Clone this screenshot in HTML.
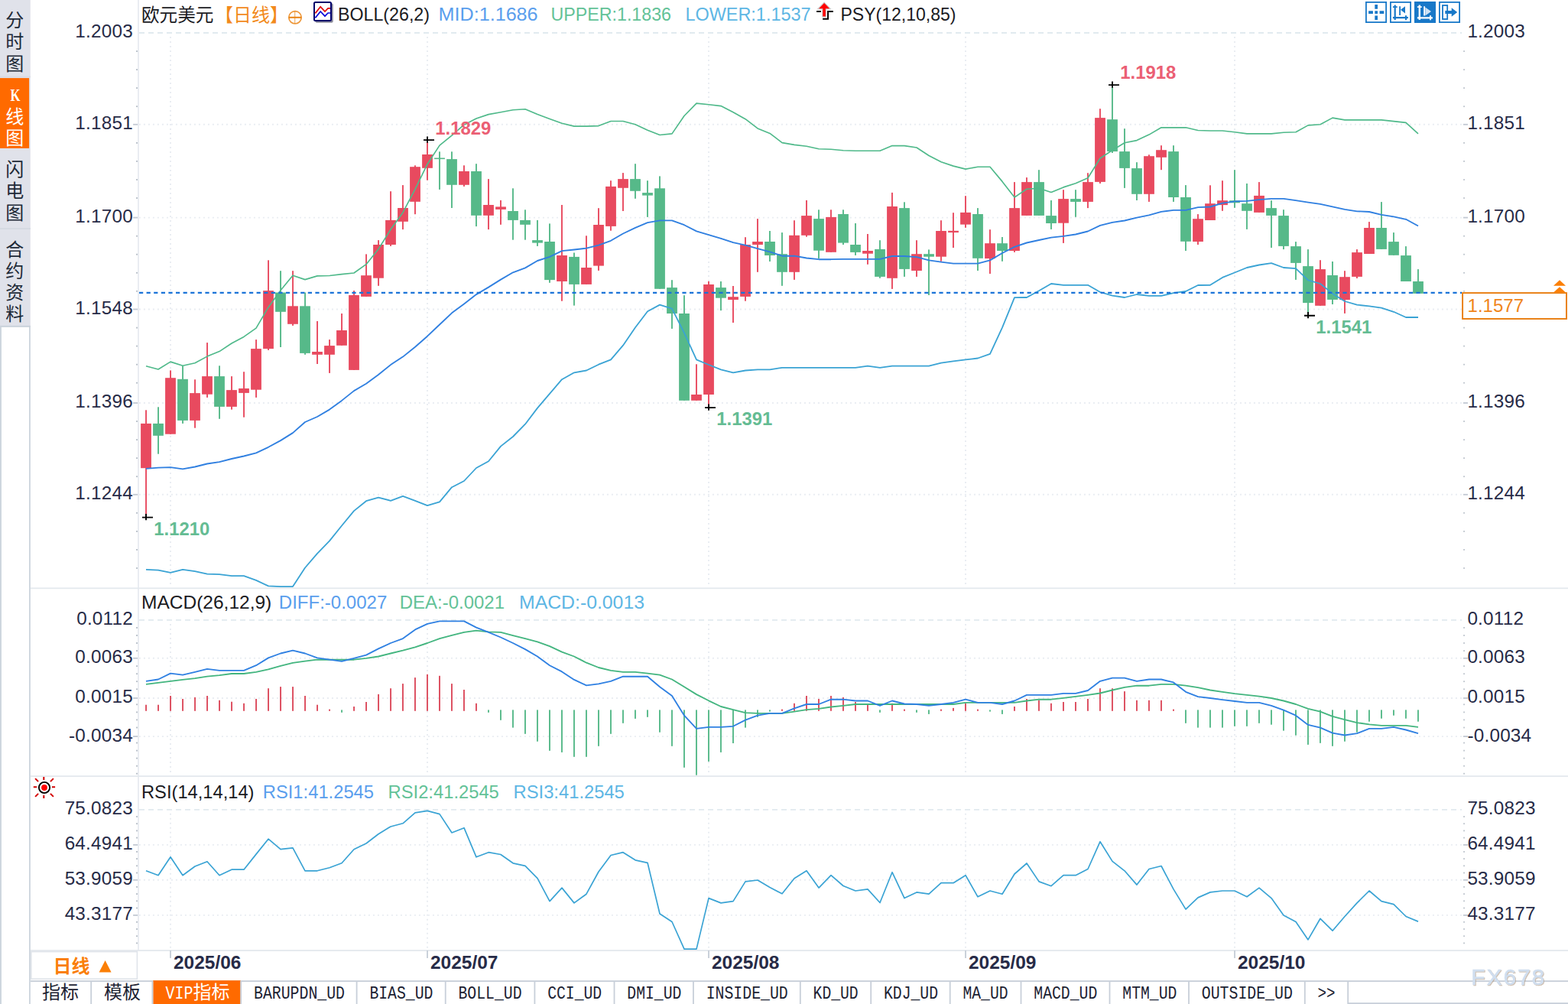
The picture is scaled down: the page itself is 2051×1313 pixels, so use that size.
<!DOCTYPE html>
<html><head><meta charset="utf-8"><title>chart</title><style>html,body{margin:0;padding:0;background:#fff}svg{display:block}</style></head><body>
<svg width="2051" height="1313" viewBox="0 0 2051 1313">
<rect width="2051" height="1313" fill="#fff"/>
<g id="sidebar">
<rect x="0" y="0" width="39.8" height="427" fill="#e0e2ea"/>
<rect x="0" y="426" width="1.95" height="887" fill="#cdd5de"/>
<rect x="38" y="426" width="1.85" height="887" fill="#cdd5de"/>
<rect x="0" y="425.8" width="39.8" height="2.1" fill="#cbd3dc"/>
<rect x="0" y="102.1" width="38.1" height="91.8" fill="#ff6a00"/>
<rect x="0" y="298.2" width="40" height="1.6" fill="#d3d7e0"/>
<rect x="0" y="99.6" width="40" height="1.6" fill="#d8dbe4"/>
<g font-family="Liberation Sans, Noto Sans CJK SC, sans-serif" font-size="24" fill="#1e2a38" text-anchor="middle">
<text x="19.2" y="34.8">分</text>
<text x="19.2" y="62.8">时</text>
<text x="19.2" y="91.8">图</text>
</g>
<g font-family="Liberation Sans, Noto Sans CJK SC, sans-serif" font-size="24" fill="#fff" text-anchor="middle">
<text x="19.2" y="160.6">线</text>
<text x="19.2" y="189">图</text>
</g>
<text x="13.6" y="131.9" font-family="Liberation Serif, serif" font-weight="bold" font-size="24" fill="#fff" textLength="13" lengthAdjust="spacingAndGlyphs">K</text>
<g font-family="Liberation Sans, Noto Sans CJK SC, sans-serif" font-size="24" fill="#1e2a38" text-anchor="middle">
<text x="19.2" y="230.4">闪</text>
<text x="19.2" y="258.4">电</text>
<text x="19.2" y="287">图</text>
<text x="19.2" y="335">合</text>
<text x="19.2" y="363">约</text>
<text x="19.2" y="391">资</text>
<text x="19.2" y="418.6">料</text>
</g>
</g>
<g id="frame">
<rect x="180.05" y="0" width="1.85" height="1243" fill="#e8ecf1"/>
<rect x="40" y="768.4" width="2011" height="1.8" fill="#e4e9ee"/>
<rect x="40" y="1014.2" width="2011" height="1.8" fill="#e4e9ee"/>
<rect x="40" y="1242.1" width="2011" height="1.9" fill="#e5e9ee"/>
</g>
<g id="grid" fill="none">
<path d="M182 43H1912" stroke="#e1eaef" stroke-width="1.8" stroke-dasharray="7 5"/>
<path d="M181.9 162.8H1912" stroke="#e9edf2" stroke-width="1.9" stroke-dasharray="2 4"/>
<path d="M181.9 284.6H1912" stroke="#e9edf2" stroke-width="1.9" stroke-dasharray="2 4"/>
<path d="M181.9 404.5H1912" stroke="#e9edf2" stroke-width="1.9" stroke-dasharray="2 4"/>
<path d="M181.9 527H1912" stroke="#e9edf2" stroke-width="1.9" stroke-dasharray="2 4"/>
<path d="M181.9 646.8H1912" stroke="#e9edf2" stroke-width="1.9" stroke-dasharray="2 4"/>
<path d="M182 810.9H1912" stroke="#e1eaef" stroke-width="1.8" stroke-dasharray="7 5"/>
<path d="M181.9 860.8H1912" stroke="#e9edf2" stroke-width="1.9" stroke-dasharray="2 4"/>
<path d="M181.9 913H1912" stroke="#e9edf2" stroke-width="1.9" stroke-dasharray="2 4"/>
<path d="M181.9 963.1H1912" stroke="#e9edf2" stroke-width="1.9" stroke-dasharray="2 4"/>
<path d="M182 1058.8H1912" stroke="#e1eaef" stroke-width="1.8" stroke-dasharray="7 5"/>
<path d="M181.9 1104.9H1912" stroke="#e9edf2" stroke-width="1.9" stroke-dasharray="2 4"/>
<path d="M181.9 1150.8H1912" stroke="#e9edf2" stroke-width="1.9" stroke-dasharray="2 4"/>
<path d="M181.9 1196.9H1912" stroke="#e9edf2" stroke-width="1.9" stroke-dasharray="2 4"/>
<path d="M223 48V768" stroke="#e9edf2" stroke-width="1.9" stroke-dasharray="2 4"/>
<path d="M223 815.9V1013.5" stroke="#e9edf2" stroke-width="1.9" stroke-dasharray="2 4"/>
<path d="M223 1063.8V1241" stroke="#e9edf2" stroke-width="1.9" stroke-dasharray="2 4"/>
<path d="M559 48V768" stroke="#e9edf2" stroke-width="1.9" stroke-dasharray="2 4"/>
<path d="M559 815.9V1013.5" stroke="#e9edf2" stroke-width="1.9" stroke-dasharray="2 4"/>
<path d="M559 1063.8V1241" stroke="#e9edf2" stroke-width="1.9" stroke-dasharray="2 4"/>
<path d="M927 48V768" stroke="#e9edf2" stroke-width="1.9" stroke-dasharray="2 4"/>
<path d="M927 815.9V1013.5" stroke="#e9edf2" stroke-width="1.9" stroke-dasharray="2 4"/>
<path d="M927 1063.8V1241" stroke="#e9edf2" stroke-width="1.9" stroke-dasharray="2 4"/>
<path d="M1263 48V768" stroke="#e9edf2" stroke-width="1.9" stroke-dasharray="2 4"/>
<path d="M1263 815.9V1013.5" stroke="#e9edf2" stroke-width="1.9" stroke-dasharray="2 4"/>
<path d="M1263 1063.8V1241" stroke="#e9edf2" stroke-width="1.9" stroke-dasharray="2 4"/>
<path d="M1615 48V768" stroke="#e9edf2" stroke-width="1.9" stroke-dasharray="2 4"/>
<path d="M1615 815.9V1013.5" stroke="#e9edf2" stroke-width="1.9" stroke-dasharray="2 4"/>
<path d="M1615 1063.8V1241" stroke="#e9edf2" stroke-width="1.9" stroke-dasharray="2 4"/>
</g>
<g id="ticks">
<rect x="178" y="66.1" width="2" height="1.8" fill="#b9c0c9"/>
<rect x="1914.2" y="66.1" width="1.7" height="1.8" fill="#b9c0c9"/>
<rect x="178" y="90.2" width="2" height="1.8" fill="#b9c0c9"/>
<rect x="1914.2" y="90.2" width="1.7" height="1.8" fill="#b9c0c9"/>
<rect x="178" y="114.2" width="2" height="1.8" fill="#b9c0c9"/>
<rect x="1914.2" y="114.2" width="1.7" height="1.8" fill="#b9c0c9"/>
<rect x="178" y="138.3" width="2" height="1.8" fill="#b9c0c9"/>
<rect x="1914.2" y="138.3" width="1.7" height="1.8" fill="#b9c0c9"/>
<rect x="178" y="186" width="2" height="1.8" fill="#b9c0c9"/>
<rect x="1914.2" y="186" width="1.7" height="1.8" fill="#b9c0c9"/>
<rect x="178" y="210" width="2" height="1.8" fill="#b9c0c9"/>
<rect x="1914.2" y="210" width="1.7" height="1.8" fill="#b9c0c9"/>
<rect x="178" y="234.1" width="2" height="1.8" fill="#b9c0c9"/>
<rect x="1914.2" y="234.1" width="1.7" height="1.8" fill="#b9c0c9"/>
<rect x="178" y="258.1" width="2" height="1.8" fill="#b9c0c9"/>
<rect x="1914.2" y="258.1" width="1.7" height="1.8" fill="#b9c0c9"/>
<rect x="178" y="307.8" width="2" height="1.8" fill="#b9c0c9"/>
<rect x="1914.2" y="307.8" width="1.7" height="1.8" fill="#b9c0c9"/>
<rect x="178" y="331.8" width="2" height="1.8" fill="#b9c0c9"/>
<rect x="1914.2" y="331.8" width="1.7" height="1.8" fill="#b9c0c9"/>
<rect x="178" y="355.9" width="2" height="1.8" fill="#b9c0c9"/>
<rect x="1914.2" y="355.9" width="1.7" height="1.8" fill="#b9c0c9"/>
<rect x="178" y="379.9" width="2" height="1.8" fill="#b9c0c9"/>
<rect x="1914.2" y="379.9" width="1.7" height="1.8" fill="#b9c0c9"/>
<rect x="178" y="427.7" width="2" height="1.8" fill="#b9c0c9"/>
<rect x="1914.2" y="427.7" width="1.7" height="1.8" fill="#b9c0c9"/>
<rect x="178" y="451.7" width="2" height="1.8" fill="#b9c0c9"/>
<rect x="1914.2" y="451.7" width="1.7" height="1.8" fill="#b9c0c9"/>
<rect x="178" y="475.8" width="2" height="1.8" fill="#b9c0c9"/>
<rect x="1914.2" y="475.8" width="1.7" height="1.8" fill="#b9c0c9"/>
<rect x="178" y="499.8" width="2" height="1.8" fill="#b9c0c9"/>
<rect x="1914.2" y="499.8" width="1.7" height="1.8" fill="#b9c0c9"/>
<rect x="178" y="550.1" width="2" height="1.8" fill="#b9c0c9"/>
<rect x="1914.2" y="550.1" width="1.7" height="1.8" fill="#b9c0c9"/>
<rect x="178" y="574.2" width="2" height="1.8" fill="#b9c0c9"/>
<rect x="1914.2" y="574.2" width="1.7" height="1.8" fill="#b9c0c9"/>
<rect x="178" y="598.2" width="2" height="1.8" fill="#b9c0c9"/>
<rect x="1914.2" y="598.2" width="1.7" height="1.8" fill="#b9c0c9"/>
<rect x="178" y="622.3" width="2" height="1.8" fill="#b9c0c9"/>
<rect x="1914.2" y="622.3" width="1.7" height="1.8" fill="#b9c0c9"/>
<rect x="178" y="669.9" width="2" height="1.8" fill="#b9c0c9"/>
<rect x="1914.2" y="669.9" width="1.7" height="1.8" fill="#b9c0c9"/>
<rect x="178" y="694" width="2" height="1.8" fill="#b9c0c9"/>
<rect x="1914.2" y="694" width="1.7" height="1.8" fill="#b9c0c9"/>
<rect x="178" y="718" width="2" height="1.8" fill="#b9c0c9"/>
<rect x="1914.2" y="718" width="1.7" height="1.8" fill="#b9c0c9"/>
<rect x="178" y="742.1" width="2" height="1.8" fill="#b9c0c9"/>
<rect x="1914.2" y="742.1" width="1.7" height="1.8" fill="#b9c0c9"/>
<rect x="174.1" y="161.9" width="6" height="1.8" fill="#c3c9d3"/>
<rect x="1914" y="161.9" width="6" height="1.8" fill="#c3c9d3"/>
<rect x="174.1" y="283.7" width="6" height="1.8" fill="#c3c9d3"/>
<rect x="1914" y="283.7" width="6" height="1.8" fill="#c3c9d3"/>
<rect x="174.1" y="403.6" width="6" height="1.8" fill="#c3c9d3"/>
<rect x="1914" y="403.6" width="6" height="1.8" fill="#c3c9d3"/>
<rect x="174.1" y="526.1" width="6" height="1.8" fill="#c3c9d3"/>
<rect x="1914" y="526.1" width="6" height="1.8" fill="#c3c9d3"/>
<rect x="174.1" y="645.9" width="6" height="1.8" fill="#c3c9d3"/>
<rect x="1914" y="645.9" width="6" height="1.8" fill="#c3c9d3"/>
<rect x="178" y="820" width="2" height="1.8" fill="#b9c0c9"/>
<rect x="1914.2" y="820" width="1.7" height="1.8" fill="#b9c0c9"/>
<rect x="178" y="830.1" width="2" height="1.8" fill="#b9c0c9"/>
<rect x="1914.2" y="830.1" width="1.7" height="1.8" fill="#b9c0c9"/>
<rect x="178" y="840.1" width="2" height="1.8" fill="#b9c0c9"/>
<rect x="1914.2" y="840.1" width="1.7" height="1.8" fill="#b9c0c9"/>
<rect x="178" y="850.2" width="2" height="1.8" fill="#b9c0c9"/>
<rect x="1914.2" y="850.2" width="1.7" height="1.8" fill="#b9c0c9"/>
<rect x="178" y="870.2" width="2" height="1.8" fill="#b9c0c9"/>
<rect x="1914.2" y="870.2" width="1.7" height="1.8" fill="#b9c0c9"/>
<rect x="178" y="880.3" width="2" height="1.8" fill="#b9c0c9"/>
<rect x="1914.2" y="880.3" width="1.7" height="1.8" fill="#b9c0c9"/>
<rect x="178" y="890.3" width="2" height="1.8" fill="#b9c0c9"/>
<rect x="1914.2" y="890.3" width="1.7" height="1.8" fill="#b9c0c9"/>
<rect x="178" y="900.4" width="2" height="1.8" fill="#b9c0c9"/>
<rect x="1914.2" y="900.4" width="1.7" height="1.8" fill="#b9c0c9"/>
<rect x="178" y="920.4" width="2" height="1.8" fill="#b9c0c9"/>
<rect x="1914.2" y="920.4" width="1.7" height="1.8" fill="#b9c0c9"/>
<rect x="178" y="930.5" width="2" height="1.8" fill="#b9c0c9"/>
<rect x="1914.2" y="930.5" width="1.7" height="1.8" fill="#b9c0c9"/>
<rect x="178" y="940.5" width="2" height="1.8" fill="#b9c0c9"/>
<rect x="1914.2" y="940.5" width="1.7" height="1.8" fill="#b9c0c9"/>
<rect x="178" y="950.6" width="2" height="1.8" fill="#b9c0c9"/>
<rect x="1914.2" y="950.6" width="1.7" height="1.8" fill="#b9c0c9"/>
<rect x="178" y="970.6" width="2" height="1.8" fill="#b9c0c9"/>
<rect x="1914.2" y="970.6" width="1.7" height="1.8" fill="#b9c0c9"/>
<rect x="178" y="980.7" width="2" height="1.8" fill="#b9c0c9"/>
<rect x="1914.2" y="980.7" width="1.7" height="1.8" fill="#b9c0c9"/>
<rect x="178" y="990.7" width="2" height="1.8" fill="#b9c0c9"/>
<rect x="1914.2" y="990.7" width="1.7" height="1.8" fill="#b9c0c9"/>
<rect x="178" y="1000.8" width="2" height="1.8" fill="#b9c0c9"/>
<rect x="1914.2" y="1000.8" width="1.7" height="1.8" fill="#b9c0c9"/>
<rect x="178" y="1010.8" width="2" height="1.8" fill="#b9c0c9"/>
<rect x="1914.2" y="1010.8" width="1.7" height="1.8" fill="#b9c0c9"/>
<rect x="174.1" y="859.9" width="6" height="1.8" fill="#c3c9d3"/>
<rect x="1914" y="859.9" width="6" height="1.8" fill="#c3c9d3"/>
<rect x="174.1" y="912.1" width="6" height="1.8" fill="#c3c9d3"/>
<rect x="1914" y="912.1" width="6" height="1.8" fill="#c3c9d3"/>
<rect x="174.1" y="962.2" width="6" height="1.8" fill="#c3c9d3"/>
<rect x="1914" y="962.2" width="6" height="1.8" fill="#c3c9d3"/>
<rect x="178" y="1067.1" width="2" height="1.8" fill="#b9c0c9"/>
<rect x="1914.2" y="1067.1" width="1.7" height="1.8" fill="#b9c0c9"/>
<rect x="178" y="1076.3" width="2" height="1.8" fill="#b9c0c9"/>
<rect x="1914.2" y="1076.3" width="1.7" height="1.8" fill="#b9c0c9"/>
<rect x="178" y="1085.5" width="2" height="1.8" fill="#b9c0c9"/>
<rect x="1914.2" y="1085.5" width="1.7" height="1.8" fill="#b9c0c9"/>
<rect x="178" y="1094.7" width="2" height="1.8" fill="#b9c0c9"/>
<rect x="1914.2" y="1094.7" width="1.7" height="1.8" fill="#b9c0c9"/>
<rect x="178" y="1113" width="2" height="1.8" fill="#b9c0c9"/>
<rect x="1914.2" y="1113" width="1.7" height="1.8" fill="#b9c0c9"/>
<rect x="178" y="1122.2" width="2" height="1.8" fill="#b9c0c9"/>
<rect x="1914.2" y="1122.2" width="1.7" height="1.8" fill="#b9c0c9"/>
<rect x="178" y="1131.4" width="2" height="1.8" fill="#b9c0c9"/>
<rect x="1914.2" y="1131.4" width="1.7" height="1.8" fill="#b9c0c9"/>
<rect x="178" y="1140.6" width="2" height="1.8" fill="#b9c0c9"/>
<rect x="1914.2" y="1140.6" width="1.7" height="1.8" fill="#b9c0c9"/>
<rect x="178" y="1159" width="2" height="1.8" fill="#b9c0c9"/>
<rect x="1914.2" y="1159" width="1.7" height="1.8" fill="#b9c0c9"/>
<rect x="178" y="1168.2" width="2" height="1.8" fill="#b9c0c9"/>
<rect x="1914.2" y="1168.2" width="1.7" height="1.8" fill="#b9c0c9"/>
<rect x="178" y="1177.4" width="2" height="1.8" fill="#b9c0c9"/>
<rect x="1914.2" y="1177.4" width="1.7" height="1.8" fill="#b9c0c9"/>
<rect x="178" y="1186.6" width="2" height="1.8" fill="#b9c0c9"/>
<rect x="1914.2" y="1186.6" width="1.7" height="1.8" fill="#b9c0c9"/>
<rect x="178" y="1204.9" width="2" height="1.8" fill="#b9c0c9"/>
<rect x="1914.2" y="1204.9" width="1.7" height="1.8" fill="#b9c0c9"/>
<rect x="178" y="1214.1" width="2" height="1.8" fill="#b9c0c9"/>
<rect x="1914.2" y="1214.1" width="1.7" height="1.8" fill="#b9c0c9"/>
<rect x="178" y="1223.3" width="2" height="1.8" fill="#b9c0c9"/>
<rect x="1914.2" y="1223.3" width="1.7" height="1.8" fill="#b9c0c9"/>
<rect x="178" y="1232.5" width="2" height="1.8" fill="#b9c0c9"/>
<rect x="1914.2" y="1232.5" width="1.7" height="1.8" fill="#b9c0c9"/>
<rect x="174.1" y="1104" width="6" height="1.8" fill="#c3c9d3"/>
<rect x="1914" y="1104" width="6" height="1.8" fill="#c3c9d3"/>
<rect x="174.1" y="1149.9" width="6" height="1.8" fill="#c3c9d3"/>
<rect x="1914" y="1149.9" width="6" height="1.8" fill="#c3c9d3"/>
<rect x="174.1" y="1196" width="6" height="1.8" fill="#c3c9d3"/>
<rect x="1914" y="1196" width="6" height="1.8" fill="#c3c9d3"/>
</g>
<g id="ylabels" font-family="Liberation Sans, sans-serif" font-size="24.3" letter-spacing="0.22" fill="#272b47">
<text x="174" y="49.4" text-anchor="end">1.2003</text>
<text x="1919.4" y="49.4">1.2003</text>
<text x="174" y="169.2" text-anchor="end">1.1851</text>
<text x="1919.4" y="169.2">1.1851</text>
<text x="174" y="291" text-anchor="end">1.1700</text>
<text x="1919.4" y="291">1.1700</text>
<text x="174" y="410.9" text-anchor="end">1.1548</text>
<text x="1919.4" y="410.9">1.1548</text>
<text x="174" y="533.4" text-anchor="end">1.1396</text>
<text x="1919.4" y="533.4">1.1396</text>
<text x="174" y="653.2" text-anchor="end">1.1244</text>
<text x="1919.4" y="653.2">1.1244</text>
<text x="174" y="817.3" text-anchor="end">0.0112</text>
<text x="1919.4" y="817.3">0.0112</text>
<text x="174" y="867.2" text-anchor="end">0.0063</text>
<text x="1919.4" y="867.2">0.0063</text>
<text x="174" y="919.4" text-anchor="end">0.0015</text>
<text x="1919.4" y="919.4">0.0015</text>
<text x="174" y="969.5" text-anchor="end">-0.0034</text>
<text x="1919.4" y="969.5">-0.0034</text>
<text x="174" y="1065.2" text-anchor="end">75.0823</text>
<text x="1919.4" y="1065.2">75.0823</text>
<text x="174" y="1111.3" text-anchor="end">64.4941</text>
<text x="1919.4" y="1111.3">64.4941</text>
<text x="174" y="1157.2" text-anchor="end">53.9059</text>
<text x="1919.4" y="1157.2">53.9059</text>
<text x="174" y="1203.3" text-anchor="end">43.3177</text>
<text x="1919.4" y="1203.3">43.3177</text>
</g>
<g id="main">
<clipPath id="cm"><rect x="181" y="30" width="1732" height="738.3"/></clipPath>
<g clip-path="url(#cm)">
<rect x="190.1" y="536.3" width="1.9" height="140.4" fill="#e84a5f"/>
<rect x="184.1" y="553.9" width="13.8" height="58.3" fill="#e84a5f"/>
<rect x="206.1" y="532.3" width="1.9" height="61.4" fill="#56b989"/>
<rect x="200.1" y="553.9" width="13.8" height="15.9" fill="#56b989"/>
<rect x="222.1" y="484.4" width="1.9" height="83.3" fill="#e84a5f"/>
<rect x="216.1" y="494.2" width="13.8" height="73.5" fill="#e84a5f"/>
<rect x="238.1" y="478.3" width="1.9" height="75.6" fill="#56b989"/>
<rect x="232.1" y="495.8" width="13.8" height="54.1" fill="#56b989"/>
<rect x="254.1" y="496.3" width="1.9" height="63.4" fill="#e84a5f"/>
<rect x="248.1" y="514.1" width="13.8" height="35.8" fill="#e84a5f"/>
<rect x="270.1" y="448.1" width="1.9" height="71.8" fill="#e84a5f"/>
<rect x="264.1" y="492.1" width="13.8" height="23.6" fill="#e84a5f"/>
<rect x="286.1" y="478.3" width="1.9" height="69.5" fill="#56b989"/>
<rect x="280.1" y="492.1" width="13.8" height="39.8" fill="#56b989"/>
<rect x="302.1" y="492.1" width="1.9" height="43.5" fill="#e84a5f"/>
<rect x="296.1" y="510.1" width="13.8" height="21.8" fill="#e84a5f"/>
<rect x="318.1" y="486.2" width="1.9" height="59.5" fill="#e84a5f"/>
<rect x="312.1" y="508" width="13.8" height="5.9" fill="#e84a5f"/>
<rect x="334.1" y="444.1" width="1.9" height="75.8" fill="#e84a5f"/>
<rect x="328.1" y="456.1" width="13.8" height="53.6" fill="#e84a5f"/>
<rect x="350.1" y="340.3" width="1.9" height="117.6" fill="#e84a5f"/>
<rect x="344.1" y="380.1" width="13.8" height="76" fill="#e84a5f"/>
<rect x="366.1" y="354.2" width="1.9" height="99.8" fill="#56b989"/>
<rect x="360.1" y="382.5" width="13.8" height="25.3" fill="#56b989"/>
<rect x="382.1" y="354.2" width="1.9" height="71.7" fill="#e84a5f"/>
<rect x="376.1" y="400.3" width="13.8" height="23.5" fill="#e84a5f"/>
<rect x="398.1" y="382.5" width="1.9" height="81.3" fill="#56b989"/>
<rect x="392.1" y="400.3" width="13.8" height="61.6" fill="#56b989"/>
<rect x="414.1" y="420" width="1.9" height="56" fill="#e84a5f"/>
<rect x="408.1" y="460" width="13.8" height="3.8" fill="#e84a5f"/>
<rect x="430.1" y="444.1" width="1.9" height="43.8" fill="#e84a5f"/>
<rect x="424.1" y="452.1" width="13.8" height="11.7" fill="#e84a5f"/>
<rect x="446.1" y="410" width="1.9" height="41.8" fill="#e84a5f"/>
<rect x="440.1" y="432" width="13.8" height="19.8" fill="#e84a5f"/>
<rect x="462.1" y="380.1" width="1.9" height="103.8" fill="#e84a5f"/>
<rect x="456.1" y="386" width="13.8" height="97.9" fill="#e84a5f"/>
<rect x="478.1" y="332.4" width="1.9" height="55.5" fill="#e84a5f"/>
<rect x="472.1" y="360.2" width="13.8" height="27.7" fill="#e84a5f"/>
<rect x="494.1" y="314.1" width="1.9" height="59.7" fill="#e84a5f"/>
<rect x="488.1" y="320" width="13.8" height="43.7" fill="#e84a5f"/>
<rect x="510.1" y="250.2" width="1.9" height="71.7" fill="#e84a5f"/>
<rect x="504.1" y="287.9" width="13.8" height="32.1" fill="#e84a5f"/>
<rect x="526" y="242.1" width="1.9" height="58" fill="#e84a5f"/>
<rect x="520.1" y="272" width="13.8" height="17.8" fill="#e84a5f"/>
<rect x="542" y="216.3" width="1.9" height="63.9" fill="#e84a5f"/>
<rect x="536.1" y="218.2" width="13.8" height="45.6" fill="#e84a5f"/>
<rect x="558" y="183.1" width="1.9" height="52.6" fill="#e84a5f"/>
<rect x="552.1" y="202" width="13.8" height="17.8" fill="#e84a5f"/>
<rect x="574" y="198.3" width="1.9" height="49.6" fill="#56b989"/>
<rect x="568.1" y="206.5" width="13.8" height="1.6" fill="#56b989"/>
<rect x="590" y="198.3" width="1.9" height="73.7" fill="#56b989"/>
<rect x="584.1" y="208.1" width="13.8" height="33.7" fill="#56b989"/>
<rect x="606" y="216.3" width="1.9" height="27.6" fill="#e84a5f"/>
<rect x="600.1" y="224" width="13.8" height="17.8" fill="#e84a5f"/>
<rect x="622" y="214.2" width="1.9" height="81.9" fill="#56b989"/>
<rect x="616.1" y="224" width="13.8" height="57.8" fill="#56b989"/>
<rect x="638" y="234.1" width="1.9" height="66" fill="#e84a5f"/>
<rect x="632.1" y="268" width="13.8" height="13.8" fill="#e84a5f"/>
<rect x="654" y="261.9" width="1.9" height="31.9" fill="#e84a5f"/>
<rect x="648.1" y="270.4" width="13.8" height="3.5" fill="#e84a5f"/>
<rect x="670" y="246.3" width="1.9" height="67.4" fill="#56b989"/>
<rect x="664.1" y="276" width="13.8" height="11.9" fill="#56b989"/>
<rect x="686" y="274.3" width="1.9" height="39.4" fill="#56b989"/>
<rect x="680.1" y="287.9" width="13.8" height="5.9" fill="#56b989"/>
<rect x="702" y="287.9" width="1.9" height="34" fill="#56b989"/>
<rect x="696.1" y="314.1" width="13.8" height="3.5" fill="#56b989"/>
<rect x="718" y="292.4" width="1.9" height="77.4" fill="#56b989"/>
<rect x="712.1" y="316" width="13.8" height="50.1" fill="#56b989"/>
<rect x="734" y="268" width="1.9" height="125.7" fill="#e84a5f"/>
<rect x="728.1" y="334" width="13.8" height="34" fill="#e84a5f"/>
<rect x="750" y="330.5" width="1.9" height="69.1" fill="#56b989"/>
<rect x="744.1" y="335.9" width="13.8" height="36" fill="#56b989"/>
<rect x="766" y="308.3" width="1.9" height="63.6" fill="#e84a5f"/>
<rect x="760.1" y="350" width="13.8" height="21.9" fill="#e84a5f"/>
<rect x="782" y="272.2" width="1.9" height="81.7" fill="#e84a5f"/>
<rect x="776.1" y="294" width="13.8" height="53.6" fill="#e84a5f"/>
<rect x="798" y="236.2" width="1.9" height="65.5" fill="#e84a5f"/>
<rect x="792.1" y="243.9" width="13.8" height="52" fill="#e84a5f"/>
<rect x="814" y="226.1" width="1.9" height="49.9" fill="#e84a5f"/>
<rect x="808.1" y="234.1" width="13.8" height="11.7" fill="#e84a5f"/>
<rect x="830" y="214.2" width="1.9" height="45.6" fill="#56b989"/>
<rect x="824.1" y="234.1" width="13.8" height="15.7" fill="#56b989"/>
<rect x="846" y="236.2" width="1.9" height="47.7" fill="#56b989"/>
<rect x="840.1" y="252.1" width="13.8" height="3.5" fill="#56b989"/>
<rect x="862" y="230.4" width="1.9" height="147.4" fill="#56b989"/>
<rect x="856.1" y="246.3" width="13.8" height="131.5" fill="#56b989"/>
<rect x="878" y="366.2" width="1.9" height="63.7" fill="#56b989"/>
<rect x="872.1" y="376.1" width="13.8" height="33.9" fill="#56b989"/>
<rect x="894" y="386.2" width="1.9" height="137.6" fill="#56b989"/>
<rect x="888.1" y="410" width="13.8" height="113.8" fill="#56b989"/>
<rect x="910" y="476.3" width="1.9" height="47.5" fill="#e84a5f"/>
<rect x="904.1" y="516" width="13.8" height="7.8" fill="#e84a5f"/>
<rect x="926" y="367.9" width="1.9" height="165.2" fill="#e84a5f"/>
<rect x="920.1" y="372" width="13.8" height="144" fill="#e84a5f"/>
<rect x="942" y="368" width="1.9" height="38.1" fill="#56b989"/>
<rect x="936.1" y="376.1" width="13.8" height="13.6" fill="#56b989"/>
<rect x="958" y="374" width="1.9" height="48" fill="#e84a5f"/>
<rect x="952.1" y="388.2" width="13.8" height="3.8" fill="#e84a5f"/>
<rect x="974" y="310.2" width="1.9" height="83.5" fill="#e84a5f"/>
<rect x="968.1" y="320" width="13.8" height="67.9" fill="#e84a5f"/>
<rect x="990" y="286.1" width="1.9" height="69.7" fill="#e84a5f"/>
<rect x="984.1" y="316" width="13.8" height="4" fill="#e84a5f"/>
<rect x="1006" y="302" width="1.9" height="40" fill="#56b989"/>
<rect x="1000.1" y="316" width="13.8" height="18" fill="#56b989"/>
<rect x="1022" y="304.1" width="1.9" height="69.7" fill="#56b989"/>
<rect x="1016.1" y="332.2" width="13.8" height="23.6" fill="#56b989"/>
<rect x="1038" y="288.2" width="1.9" height="77.7" fill="#e84a5f"/>
<rect x="1032.1" y="307.8" width="13.8" height="48" fill="#e84a5f"/>
<rect x="1054" y="261.9" width="1.9" height="47.8" fill="#e84a5f"/>
<rect x="1048.1" y="282.1" width="13.8" height="25.7" fill="#e84a5f"/>
<rect x="1070" y="274.3" width="1.9" height="63.7" fill="#56b989"/>
<rect x="1064.1" y="286.1" width="13.8" height="41.6" fill="#56b989"/>
<rect x="1086" y="274.3" width="1.9" height="55.5" fill="#e84a5f"/>
<rect x="1080.1" y="283.9" width="13.8" height="45.9" fill="#e84a5f"/>
<rect x="1102" y="274.3" width="1.9" height="45.7" fill="#56b989"/>
<rect x="1096.1" y="280" width="13.8" height="37.6" fill="#56b989"/>
<rect x="1118" y="292" width="1.9" height="41.9" fill="#56b989"/>
<rect x="1112.1" y="320" width="13.8" height="9.9" fill="#56b989"/>
<rect x="1134" y="306" width="1.9" height="39.8" fill="#e84a5f"/>
<rect x="1128.1" y="328" width="13.8" height="3.7" fill="#e84a5f"/>
<rect x="1150" y="314.2" width="1.9" height="49.6" fill="#56b989"/>
<rect x="1144.1" y="325.9" width="13.8" height="36" fill="#56b989"/>
<rect x="1166" y="251.9" width="1.9" height="126" fill="#e84a5f"/>
<rect x="1160.1" y="270" width="13.8" height="93.8" fill="#e84a5f"/>
<rect x="1182" y="264.3" width="1.9" height="97.6" fill="#56b989"/>
<rect x="1176.1" y="272.1" width="13.8" height="79.8" fill="#56b989"/>
<rect x="1198" y="314.2" width="1.9" height="47.7" fill="#e84a5f"/>
<rect x="1192.1" y="332.2" width="13.8" height="21.8" fill="#e84a5f"/>
<rect x="1214" y="326.4" width="1.9" height="59.6" fill="#56b989"/>
<rect x="1208.1" y="332.2" width="13.8" height="3.5" fill="#56b989"/>
<rect x="1230" y="288.2" width="1.9" height="53.6" fill="#e84a5f"/>
<rect x="1224.1" y="302" width="13.8" height="33.7" fill="#e84a5f"/>
<rect x="1246" y="278.2" width="1.9" height="45.8" fill="#e84a5f"/>
<rect x="1240.1" y="301.8" width="13.8" height="2.3" fill="#e84a5f"/>
<rect x="1262" y="256.2" width="1.9" height="41.6" fill="#e84a5f"/>
<rect x="1256.1" y="277.9" width="13.8" height="15.7" fill="#e84a5f"/>
<rect x="1278" y="272.1" width="1.9" height="81.9" fill="#56b989"/>
<rect x="1272.1" y="280" width="13.8" height="57.8" fill="#56b989"/>
<rect x="1294" y="300.2" width="1.9" height="57.8" fill="#e84a5f"/>
<rect x="1288.1" y="318.2" width="13.8" height="19.9" fill="#e84a5f"/>
<rect x="1310" y="310" width="1.9" height="31.8" fill="#56b989"/>
<rect x="1304.1" y="318.2" width="13.8" height="9.8" fill="#56b989"/>
<rect x="1326" y="238.1" width="1.9" height="91.8" fill="#e84a5f"/>
<rect x="1320.1" y="272.1" width="13.8" height="55.9" fill="#e84a5f"/>
<rect x="1342" y="232.1" width="1.9" height="49.8" fill="#e84a5f"/>
<rect x="1336.1" y="238.1" width="13.8" height="43.8" fill="#e84a5f"/>
<rect x="1358" y="222.2" width="1.9" height="59.7" fill="#56b989"/>
<rect x="1352.1" y="238.1" width="13.8" height="43.8" fill="#56b989"/>
<rect x="1374" y="262" width="1.9" height="37.9" fill="#56b989"/>
<rect x="1368.1" y="282.1" width="13.8" height="9.9" fill="#56b989"/>
<rect x="1390" y="248.2" width="1.9" height="69.7" fill="#e84a5f"/>
<rect x="1384.1" y="260.1" width="13.8" height="31.6" fill="#e84a5f"/>
<rect x="1406" y="248.2" width="1.9" height="35.6" fill="#56b989"/>
<rect x="1400.1" y="260.1" width="13.8" height="3.8" fill="#56b989"/>
<rect x="1422" y="226.2" width="1.9" height="45.9" fill="#e84a5f"/>
<rect x="1416.1" y="238.1" width="13.8" height="25.8" fill="#e84a5f"/>
<rect x="1438" y="142.2" width="1.9" height="97.8" fill="#e84a5f"/>
<rect x="1432.1" y="154.1" width="13.8" height="83.8" fill="#e84a5f"/>
<rect x="1454" y="111.1" width="1.9" height="88.9" fill="#56b989"/>
<rect x="1448.1" y="156.2" width="13.8" height="41.9" fill="#56b989"/>
<rect x="1470" y="168.2" width="1.9" height="77.7" fill="#56b989"/>
<rect x="1464.1" y="198.1" width="13.8" height="21.8" fill="#56b989"/>
<rect x="1486" y="212.2" width="1.9" height="49.8" fill="#56b989"/>
<rect x="1480.1" y="220.1" width="13.8" height="33.7" fill="#56b989"/>
<rect x="1502" y="202.3" width="1.9" height="61.6" fill="#e84a5f"/>
<rect x="1496.1" y="204.2" width="13.8" height="49.6" fill="#e84a5f"/>
<rect x="1518" y="190.2" width="1.9" height="32" fill="#e84a5f"/>
<rect x="1512.1" y="196.2" width="13.8" height="9.6" fill="#e84a5f"/>
<rect x="1534" y="190.2" width="1.9" height="73.7" fill="#56b989"/>
<rect x="1528.1" y="198.1" width="13.8" height="59.9" fill="#56b989"/>
<rect x="1550" y="242.1" width="1.9" height="85.9" fill="#56b989"/>
<rect x="1544.1" y="258" width="13.8" height="57.8" fill="#56b989"/>
<rect x="1566" y="280.1" width="1.9" height="39.9" fill="#e84a5f"/>
<rect x="1560.1" y="286.2" width="13.8" height="29.8" fill="#e84a5f"/>
<rect x="1582" y="242.3" width="1.9" height="45.7" fill="#e84a5f"/>
<rect x="1576.1" y="266.2" width="13.8" height="21.8" fill="#e84a5f"/>
<rect x="1598" y="236.2" width="1.9" height="39.6" fill="#e84a5f"/>
<rect x="1592.1" y="262.2" width="13.8" height="5.9" fill="#e84a5f"/>
<rect x="1614" y="222.2" width="1.9" height="49.6" fill="#56b989"/>
<rect x="1608.1" y="262.2" width="13.8" height="3.1" fill="#56b989"/>
<rect x="1630" y="240" width="1.9" height="59.9" fill="#56b989"/>
<rect x="1624.1" y="266.2" width="13.8" height="9.6" fill="#56b989"/>
<rect x="1646" y="238.1" width="1.9" height="39.8" fill="#e84a5f"/>
<rect x="1640.1" y="255.9" width="13.8" height="22" fill="#e84a5f"/>
<rect x="1662" y="262.2" width="1.9" height="61.8" fill="#56b989"/>
<rect x="1656.1" y="272.1" width="13.8" height="9.8" fill="#56b989"/>
<rect x="1678" y="274.2" width="1.9" height="51.9" fill="#56b989"/>
<rect x="1672.1" y="282.1" width="13.8" height="39.8" fill="#56b989"/>
<rect x="1694" y="316.1" width="1.9" height="49.8" fill="#56b989"/>
<rect x="1688.1" y="322.1" width="13.8" height="21.8" fill="#56b989"/>
<rect x="1710" y="326.1" width="1.9" height="86.6" fill="#56b989"/>
<rect x="1704.1" y="348.1" width="13.8" height="48" fill="#56b989"/>
<rect x="1726" y="340.2" width="1.9" height="59.6" fill="#e84a5f"/>
<rect x="1720.1" y="352.1" width="13.8" height="47.7" fill="#e84a5f"/>
<rect x="1742" y="342" width="1.9" height="56" fill="#56b989"/>
<rect x="1736.1" y="360" width="13.8" height="31.9" fill="#56b989"/>
<rect x="1758" y="354.2" width="1.9" height="55.7" fill="#e84a5f"/>
<rect x="1752.1" y="362.2" width="13.8" height="29.9" fill="#e84a5f"/>
<rect x="1774" y="326.1" width="1.9" height="37.9" fill="#e84a5f"/>
<rect x="1768.1" y="330.1" width="13.8" height="31.8" fill="#e84a5f"/>
<rect x="1790" y="290.1" width="1.9" height="41.9" fill="#e84a5f"/>
<rect x="1784.1" y="298" width="13.8" height="34" fill="#e84a5f"/>
<rect x="1806" y="264.1" width="1.9" height="61.8" fill="#56b989"/>
<rect x="1800.1" y="298" width="13.8" height="27.9" fill="#56b989"/>
<rect x="1822" y="304.1" width="1.9" height="29.7" fill="#56b989"/>
<rect x="1816.1" y="316.1" width="13.8" height="17.7" fill="#56b989"/>
<rect x="1838" y="322.1" width="1.9" height="45.9" fill="#56b989"/>
<rect x="1832.1" y="334.1" width="13.8" height="33.9" fill="#56b989"/>
<rect x="1854" y="352.1" width="1.9" height="31.8" fill="#56b989"/>
<rect x="1848.1" y="368" width="13.8" height="15.9" fill="#56b989"/>
<polyline points="191,478.8 207,483 223,473.1 239,478.3 255,474.8 271,466.1 287,459.6 303,449 319,440.4 335,429.1 351,401.9 367,379.7 383,360.2 399,365.6 415,360.9 431,360.5 447,358.6 463,357 479,345.7 495,325.8 511,300.1 527,277.9 543,247.4 559,214.7 575,190.1 591,177.2 607,163.2 623,155 639,149.6 655,146.8 671,143.8 687,142.8 703,149.6 719,155.5 735,161.3 751,165.1 767,165.1 783,164.6 799,158.5 815,158.5 831,162.7 847,170.2 863,176.5 879,174.9 895,151.5 911,135.1 927,136.7 943,138.6 959,146.8 975,155.7 991,167.9 1007,174.4 1023,186.6 1039,189.4 1055,191.3 1071,194.8 1087,195.2 1103,196.7 1119,197.2 1135,197.2 1151,197.2 1167,190.6 1183,190.6 1199,193 1215,203.5 1231,211.7 1247,217.1 1263,221.1 1279,218.2 1295,218.2 1311,237.4 1327,258 1343,247.3 1359,246.3 1375,251.5 1391,244.9 1407,239.8 1423,232.8 1439,207 1455,196.5 1471,186.7 1487,183.6 1503,176.1 1519,166.8 1535,166.8 1551,166.8 1567,170.5 1583,171 1599,171 1615,172.8 1631,174.9 1647,174.9 1663,174.9 1679,173.3 1695,172.8 1711,163.9 1727,162.8 1743,154.1 1759,156.9 1775,156.9 1791,156.9 1807,156.9 1823,158.6 1839,160.4 1855,174.9" fill="none" stroke="#4fb98a" stroke-width="1.65" stroke-linejoin="round"/>
<polyline points="191,612.9 207,611.7 223,611.2 239,613.3 255,610.5 271,606.5 287,604.2 303,600 319,596.5 335,592.3 351,584.8 367,576.1 383,566.1 399,552 415,545 431,535.6 447,523.9 463,511.1 479,501.7 495,490 511,477.1 527,466.6 543,453.7 559,439.7 575,424.5 591,409.3 607,397.4 623,385.1 639,375.6 655,365.6 671,356.3 687,350.4 703,341 719,335.9 735,328.2 751,326.5 767,324.7 783,320.7 799,314.8 815,305.5 831,297.8 847,291.2 863,288.4 879,288.4 895,294.2 911,302.4 927,307.1 943,311.8 959,317.2 975,320.7 991,325.1 1007,329.3 1023,334.7 1039,334.7 1055,337.5 1071,339.2 1087,339.2 1103,338.8 1119,338.8 1135,338.8 1151,338.8 1167,335 1183,335 1199,336.2 1215,340.4 1231,342.7 1247,344.6 1263,344.6 1279,344.6 1295,340.4 1311,331 1327,322.9 1343,317.5 1359,314 1375,310.7 1391,308.8 1407,306.5 1423,302.5 1439,294.8 1455,290.8 1471,288.5 1487,284.7 1503,281.4 1519,276.8 1535,274.9 1551,274.9 1567,271.2 1583,270.5 1599,265.7 1615,263.4 1631,262.9 1647,261.1 1663,259.9 1679,259.9 1695,262.2 1711,264.6 1727,266.9 1743,270.4 1759,273.9 1775,276.3 1791,277 1807,280.9 1823,283.3 1839,286.8 1855,295.5" fill="none" stroke="#2f7fe0" stroke-width="1.85" stroke-linejoin="round"/>
<polyline points="191,744.9 207,745.6 223,748.9 239,744.9 255,747.2 271,750.7 287,751.2 303,753.1 319,753.1 335,758.9 351,766.4 367,767.1 383,767.1 399,742.5 415,723.8 431,707.4 447,687.5 463,668.1 479,655.2 495,650.6 511,654.8 527,648.9 543,654.8 559,661.1 575,656.4 591,637.2 607,629 623,612 639,603.3 655,583.6 671,571 687,554.7 703,533.6 719,514.9 735,496.2 751,487.3 767,484.5 783,476.7 799,470.4 815,451.7 831,428.3 847,407.2 863,398.6 879,403.7 895,435.3 911,470.4 927,477 943,483.3 959,487.3 975,484.5 991,483.3 1007,483.3 1023,480.9 1039,480.9 1055,480.9 1071,480.9 1087,480.9 1103,480.9 1119,480.9 1135,478.6 1151,480.9 1167,478.6 1183,478.6 1199,478.6 1215,478.6 1231,474.6 1247,472.3 1263,470.4 1279,468.5 1295,462.9 1311,428.3 1327,389.2 1343,389 1359,380.3 1375,371 1391,372.8 1407,372.8 1423,372.8 1439,382 1455,386.6 1471,389 1487,385 1503,386.9 1519,386.9 1535,383.1 1551,381 1567,373 1583,372.8 1599,362.9 1615,356.5 1631,350 1647,346.5 1663,344.1 1679,350 1695,351.2 1711,366.4 1727,371 1743,383.9 1759,394 1775,398.7 1791,400.3 1807,402.6 1823,407.8 1839,415 1855,415" fill="none" stroke="#3aa3d4" stroke-width="1.8" stroke-linejoin="round"/>
</g>
<path d="M182 382.9H1912" stroke="#1a73d8" stroke-width="2.2" stroke-dasharray="5.2 4.4" fill="none"/>
<path d="M554 183.1H568M559 178.5V186.7" stroke="#000" stroke-width="1.9" fill="none"/>
<text x="569.3" y="176" font-family="Liberation Sans, sans-serif" font-size="24" font-weight="bold" fill="#eb5f74" textLength="73" lengthAdjust="spacingAndGlyphs">1.1829</text>
<path d="M1450 111.1H1464M1455 106.5V114.7" stroke="#000" stroke-width="1.9" fill="none"/>
<text x="1465.3" y="102.9" font-family="Liberation Sans, sans-serif" font-size="24" font-weight="bold" fill="#eb5f74" textLength="73" lengthAdjust="spacingAndGlyphs">1.1918</text>
<path d="M922 533.1H936M927 528.5V536.7" stroke="#000" stroke-width="1.9" fill="none"/>
<text x="937.3" y="556.1" font-family="Liberation Sans, sans-serif" font-size="24" font-weight="bold" fill="#64bc93" textLength="73" lengthAdjust="spacingAndGlyphs">1.1391</text>
<path d="M1706 412.7H1720M1711 408.1V416.3" stroke="#000" stroke-width="1.9" fill="none"/>
<text x="1721.3" y="435.7" font-family="Liberation Sans, sans-serif" font-size="24" font-weight="bold" fill="#64bc93" textLength="73" lengthAdjust="spacingAndGlyphs">1.1541</text>
<path d="M186 676.6H200M191 672V680.2" stroke="#000" stroke-width="1.9" fill="none"/>
<text x="201.3" y="699.6" font-family="Liberation Sans, sans-serif" font-size="24" font-weight="bold" fill="#64bc93" textLength="73" lengthAdjust="spacingAndGlyphs">1.1210</text>
</g>
<rect x="1913.1" y="383.1" width="135.9" height="33.85" fill="#fff" stroke="#e87c0e" stroke-width="1.9"/>
<text x="1919.6" y="407.6" font-family="Liberation Sans, sans-serif" font-size="24" fill="#f0851a">1.1577</text>
<path d="M2040 366.2l8 7.6h-16zM2040 375.2l8 7.2h-16z" fill="#fb7f06"/>
<g id="macd">
<rect x="190.1" y="921.7" width="1.9" height="8.1" fill="#dc4b5c"/>
<rect x="206.1" y="921.7" width="1.9" height="8.1" fill="#dc4b5c"/>
<rect x="222.1" y="910" width="1.9" height="19.8" fill="#dc4b5c"/>
<rect x="238.1" y="914" width="1.9" height="15.8" fill="#dc4b5c"/>
<rect x="254.1" y="911.9" width="1.9" height="17.9" fill="#dc4b5c"/>
<rect x="270.1" y="910" width="1.9" height="19.8" fill="#dc4b5c"/>
<rect x="286.1" y="915.8" width="1.9" height="14" fill="#dc4b5c"/>
<rect x="302.1" y="917.7" width="1.9" height="12.1" fill="#dc4b5c"/>
<rect x="318.1" y="919.8" width="1.9" height="10" fill="#dc4b5c"/>
<rect x="334.1" y="914" width="1.9" height="15.8" fill="#dc4b5c"/>
<rect x="350.1" y="900.2" width="1.9" height="29.6" fill="#dc4b5c"/>
<rect x="366.1" y="898.1" width="1.9" height="31.7" fill="#dc4b5c"/>
<rect x="382.1" y="898.1" width="1.9" height="31.7" fill="#dc4b5c"/>
<rect x="398.1" y="910" width="1.9" height="19.8" fill="#dc4b5c"/>
<rect x="414.1" y="921.7" width="1.9" height="8.1" fill="#dc4b5c"/>
<rect x="430.1" y="927.6" width="1.9" height="2.2" fill="#dc4b5c"/>
<rect x="446.1" y="928.4" width="1.9" height="3.4" fill="#56b989"/>
<rect x="462.1" y="924" width="1.9" height="5.8" fill="#dc4b5c"/>
<rect x="478.1" y="918" width="1.9" height="11.8" fill="#dc4b5c"/>
<rect x="494.1" y="907.9" width="1.9" height="21.9" fill="#dc4b5c"/>
<rect x="510.1" y="900.2" width="1.9" height="29.6" fill="#dc4b5c"/>
<rect x="526" y="894.1" width="1.9" height="35.7" fill="#dc4b5c"/>
<rect x="542" y="886.1" width="1.9" height="43.7" fill="#dc4b5c"/>
<rect x="558" y="881.9" width="1.9" height="47.9" fill="#dc4b5c"/>
<rect x="574" y="883.8" width="1.9" height="46" fill="#dc4b5c"/>
<rect x="590" y="894.1" width="1.9" height="35.7" fill="#dc4b5c"/>
<rect x="606" y="902" width="1.9" height="27.8" fill="#dc4b5c"/>
<rect x="622" y="919.8" width="1.9" height="10" fill="#dc4b5c"/>
<rect x="638" y="928.4" width="1.9" height="3.4" fill="#56b989"/>
<rect x="654" y="928.4" width="1.9" height="13.4" fill="#56b989"/>
<rect x="670" y="928.4" width="1.9" height="23.2" fill="#56b989"/>
<rect x="686" y="928.4" width="1.9" height="31.4" fill="#56b989"/>
<rect x="702" y="928.4" width="1.9" height="41.3" fill="#56b989"/>
<rect x="718" y="928.4" width="1.9" height="53.4" fill="#56b989"/>
<rect x="734" y="928.4" width="1.9" height="55.5" fill="#56b989"/>
<rect x="750" y="928.4" width="1.9" height="61.4" fill="#56b989"/>
<rect x="766" y="928.4" width="1.9" height="61.4" fill="#56b989"/>
<rect x="782" y="928.4" width="1.9" height="47.4" fill="#56b989"/>
<rect x="798" y="928.4" width="1.9" height="31.4" fill="#56b989"/>
<rect x="814" y="928.4" width="1.9" height="17.4" fill="#56b989"/>
<rect x="830" y="928.4" width="1.9" height="11.5" fill="#56b989"/>
<rect x="846" y="928.4" width="1.9" height="9.4" fill="#56b989"/>
<rect x="862" y="928.4" width="1.9" height="29.3" fill="#56b989"/>
<rect x="878" y="928.4" width="1.9" height="47.4" fill="#56b989"/>
<rect x="894" y="928.4" width="1.9" height="75.4" fill="#56b989"/>
<rect x="910" y="928.4" width="1.9" height="85.3" fill="#56b989"/>
<rect x="926" y="928.4" width="1.9" height="67.5" fill="#56b989"/>
<rect x="942" y="928.4" width="1.9" height="55.5" fill="#56b989"/>
<rect x="958" y="928.4" width="1.9" height="43.6" fill="#56b989"/>
<rect x="974" y="928.4" width="1.9" height="23.2" fill="#56b989"/>
<rect x="990" y="928.4" width="1.9" height="9.4" fill="#56b989"/>
<rect x="1006" y="928.4" width="1.9" height="2.2" fill="#56b989"/>
<rect x="1022" y="927.6" width="1.9" height="2.2" fill="#dc4b5c"/>
<rect x="1038" y="919.8" width="1.9" height="10" fill="#dc4b5c"/>
<rect x="1054" y="910" width="1.9" height="19.8" fill="#dc4b5c"/>
<rect x="1070" y="914" width="1.9" height="15.8" fill="#dc4b5c"/>
<rect x="1086" y="910" width="1.9" height="19.8" fill="#dc4b5c"/>
<rect x="1102" y="911.9" width="1.9" height="17.9" fill="#dc4b5c"/>
<rect x="1118" y="918" width="1.9" height="11.8" fill="#dc4b5c"/>
<rect x="1134" y="921.7" width="1.9" height="8.1" fill="#dc4b5c"/>
<rect x="1150" y="928.4" width="1.9" height="3.4" fill="#56b989"/>
<rect x="1166" y="919.8" width="1.9" height="10" fill="#dc4b5c"/>
<rect x="1182" y="927.6" width="1.9" height="2.2" fill="#dc4b5c"/>
<rect x="1198" y="928.4" width="1.9" height="3.4" fill="#56b989"/>
<rect x="1214" y="928.4" width="1.9" height="5.5" fill="#56b989"/>
<rect x="1230" y="927.6" width="1.9" height="2.2" fill="#dc4b5c"/>
<rect x="1246" y="925.9" width="1.9" height="3.9" fill="#dc4b5c"/>
<rect x="1262" y="919.8" width="1.9" height="10" fill="#dc4b5c"/>
<rect x="1278" y="927.6" width="1.9" height="2.2" fill="#dc4b5c"/>
<rect x="1294" y="928.4" width="1.9" height="2.2" fill="#56b989"/>
<rect x="1310" y="928.4" width="1.9" height="5.5" fill="#56b989"/>
<rect x="1326" y="924" width="1.9" height="5.8" fill="#dc4b5c"/>
<rect x="1342" y="914" width="1.9" height="15.8" fill="#dc4b5c"/>
<rect x="1358" y="915.8" width="1.9" height="14" fill="#dc4b5c"/>
<rect x="1374" y="919.8" width="1.9" height="10" fill="#dc4b5c"/>
<rect x="1390" y="918" width="1.9" height="11.8" fill="#dc4b5c"/>
<rect x="1406" y="918" width="1.9" height="11.8" fill="#dc4b5c"/>
<rect x="1422" y="914" width="1.9" height="15.8" fill="#dc4b5c"/>
<rect x="1438" y="900.2" width="1.9" height="29.6" fill="#dc4b5c"/>
<rect x="1454" y="900.2" width="1.9" height="29.6" fill="#dc4b5c"/>
<rect x="1470" y="904.1" width="1.9" height="25.7" fill="#dc4b5c"/>
<rect x="1486" y="915.8" width="1.9" height="14" fill="#dc4b5c"/>
<rect x="1502" y="915.8" width="1.9" height="14" fill="#dc4b5c"/>
<rect x="1518" y="915.8" width="1.9" height="14" fill="#dc4b5c"/>
<rect x="1534" y="927.6" width="1.9" height="2.2" fill="#dc4b5c"/>
<rect x="1550" y="928.4" width="1.9" height="17.4" fill="#56b989"/>
<rect x="1566" y="928.4" width="1.9" height="23.2" fill="#56b989"/>
<rect x="1582" y="928.4" width="1.9" height="23.2" fill="#56b989"/>
<rect x="1598" y="928.4" width="1.9" height="23.2" fill="#56b989"/>
<rect x="1614" y="928.4" width="1.9" height="21.4" fill="#56b989"/>
<rect x="1630" y="928.4" width="1.9" height="21.4" fill="#56b989"/>
<rect x="1646" y="928.4" width="1.9" height="17.4" fill="#56b989"/>
<rect x="1662" y="928.4" width="1.9" height="19.3" fill="#56b989"/>
<rect x="1678" y="928.4" width="1.9" height="27.2" fill="#56b989"/>
<rect x="1694" y="928.4" width="1.9" height="33.3" fill="#56b989"/>
<rect x="1710" y="928.4" width="1.9" height="45.5" fill="#56b989"/>
<rect x="1726" y="928.4" width="1.9" height="43.4" fill="#56b989"/>
<rect x="1742" y="928.4" width="1.9" height="47.4" fill="#56b989"/>
<rect x="1758" y="928.4" width="1.9" height="41.3" fill="#56b989"/>
<rect x="1774" y="928.4" width="1.9" height="29.3" fill="#56b989"/>
<rect x="1790" y="928.4" width="1.9" height="15.3" fill="#56b989"/>
<rect x="1806" y="928.4" width="1.9" height="11.3" fill="#56b989"/>
<rect x="1822" y="928.4" width="1.9" height="7.3" fill="#56b989"/>
<rect x="1838" y="928.4" width="1.9" height="11.3" fill="#56b989"/>
<rect x="1854" y="928.4" width="1.9" height="15.3" fill="#56b989"/>
<polyline points="191,894.8 207,892.9 223,890.8 239,888.9 255,887.1 271,884.7 287,883.1 303,881 319,881 335,878.9 351,875.4 367,870.9 383,866.9 399,864.6 415,862.7 431,862.7 447,862.7 463,862.7 479,860.8 495,858.5 511,854.5 527,850.6 543,846.3 559,841 575,835.1 591,830.9 607,826.9 623,824.6 639,826.4 655,826.9 671,831.1 687,835.1 703,839.3 719,845.2 735,852.7 751,858.5 767,866.7 783,873 799,876.8 815,878.9 831,878.9 847,880.7 863,882.6 879,888.5 895,898.3 911,908.1 927,916.3 943,924 959,928.2 975,932.2 991,932.9 1007,932.9 1023,932.9 1039,930.6 1055,928.2 1071,926.8 1087,924.5 1103,922.9 1119,921 1135,921 1151,921 1167,921 1183,921 1199,921 1215,921 1231,921 1247,921 1263,918.9 1279,918.9 1295,918.9 1311,918.9 1327,918.9 1343,916.5 1359,914.7 1375,914.7 1391,912.8 1407,910.9 1423,908.8 1439,906.5 1455,902.5 1471,898.8 1487,896.7 1503,896.7 1519,894.8 1535,894.8 1551,896.7 1567,899.2 1583,902.5 1599,904.8 1615,907.2 1631,908.8 1647,910.7 1663,913 1679,916.5 1695,921 1711,926.8 1727,930.6 1743,936.9 1759,941.1 1775,945.1 1791,947.4 1807,948.8 1823,948.8 1839,948.8 1855,950.9" fill="none" stroke="#43b57f" stroke-width="1.85" stroke-linejoin="round"/>
<polyline points="191,890.8 207,888.5 223,880.7 239,882.6 255,878.9 271,874.9 287,876.8 303,876.8 319,876.8 335,870.2 351,860.4 367,854.5 383,850.6 399,854.5 415,860.4 431,862.7 447,864.8 463,860.8 479,856.6 495,848.4 511,841 527,835.1 543,823.4 559,815.9 575,812.4 591,812.4 607,812.4 623,820.6 639,826.9 655,833.5 671,841 687,849.1 703,858.5 719,870.2 735,878.4 751,888.9 767,896.4 783,894.3 799,890.8 815,884.7 831,884.7 847,884.7 863,898.3 879,910 895,935.7 911,952.8 927,950.9 943,950.9 959,949.8 975,941.6 991,935.7 1007,932.9 1023,932.9 1039,926.4 1055,921 1071,921 1087,914.7 1103,914.7 1119,916.5 1135,916.5 1151,922.9 1167,916.5 1183,920.5 1199,921 1215,922.9 1231,921 1247,918.9 1263,914.7 1279,918.9 1295,918.9 1311,921 1327,916.5 1343,908.8 1359,908.8 1375,908.8 1391,906.9 1407,906.9 1423,903 1439,890.8 1455,886.6 1471,886.6 1487,890.8 1503,888.5 1519,888.5 1535,892.4 1551,904.8 1567,911.2 1583,913 1599,915.1 1615,917 1631,918.9 1647,918.9 1663,922.9 1679,928.7 1695,935.7 1711,947.9 1727,951.6 1743,958.7 1759,961.5 1775,959.1 1791,952.8 1807,952.8 1823,950.9 1839,954.5 1855,959.1" fill="none" stroke="#2f80e2" stroke-width="1.85" stroke-linejoin="round"/>
</g>
<g id="rsi">
<polyline points="191,1138.8 207,1144.7 223,1120.8 239,1144.7 255,1133 271,1126.7 287,1144.7 303,1137.2 319,1137.2 335,1117.1 351,1097.2 367,1110.7 383,1108.9 399,1138.8 415,1138.8 431,1134.8 447,1128.8 463,1110.7 479,1103 495,1090.8 511,1081 527,1076.8 543,1062.8 559,1060.4 575,1064.6 591,1089 607,1082.7 623,1120.8 639,1114.7 655,1117.5 671,1128.8 687,1132.3 703,1148.7 719,1178.6 735,1161.1 751,1180.9 767,1169.2 783,1140 799,1118.5 815,1114.7 831,1124.8 847,1128.3 863,1195 879,1205.5 895,1241.1 911,1241.1 927,1174.6 943,1180.9 959,1178.6 975,1152.9 991,1151 1007,1160.6 1023,1168.8 1039,1148.7 1055,1138.8 1071,1161.1 1087,1144.7 1103,1158.5 1119,1165 1135,1162.9 1151,1180.5 1167,1140.7 1183,1174.6 1199,1166.9 1215,1169.2 1231,1154.7 1247,1154.7 1263,1144.7 1279,1172.8 1295,1165 1311,1169.2 1327,1143 1343,1129 1359,1152.9 1375,1158.7 1391,1144.7 1407,1144.7 1423,1136.5 1439,1100.7 1455,1126.4 1471,1138.8 1487,1157.1 1503,1136.5 1519,1132.5 1535,1162.9 1551,1189.1 1567,1173.9 1583,1166.9 1599,1165 1615,1165 1631,1172.8 1647,1161.1 1663,1174.6 1679,1196.9 1695,1205.5 1711,1228.9 1727,1201.3 1743,1217.2 1759,1198.5 1775,1180.9 1791,1165 1807,1178.6 1823,1182.6 1839,1198.5 1855,1205.1" fill="none" stroke="#3aa3d4" stroke-width="1.7" stroke-linejoin="round"/>
</g>
<g id="hdr">
<text x="185" y="28" font-family="Liberation Sans, Noto Sans CJK SC, sans-serif" font-size="24" fill="#1b1b1f" textLength="94.5" lengthAdjust="spacingAndGlyphs">欧元美元</text>
<text x="281" y="28" font-family="Liberation Sans, Noto Sans CJK SC, sans-serif" font-size="24" fill="#f28a1c" textLength="96" lengthAdjust="spacingAndGlyphs">【日线】</text>
<g stroke="#ea8414" fill="none"><circle cx="386" cy="22.8" r="8.2" stroke-width="1.7" stroke-opacity=".85"/><path d="M377.8 22.8H394.2" stroke-width="2"/><path d="M385.6 14.6V31" stroke-width="1.6" stroke-opacity=".5"/></g>
<g><rect x="412.3" y="4.3" width="23.4" height="25.4" rx="2" fill="#8d8d9c"/><rect x="411" y="3" width="22" height="24" rx="1.5" fill="#fff" stroke="#00006a" stroke-width="2"/><polyline points="412.4,17.4 419.2,8.8 425,15 429,10.9 432,10.9" fill="none" stroke="#dd0a0a" stroke-width="1.7"/><polyline points="412.4,23.4 419.2,15 425,21.2 429,17 432,17" fill="none" stroke="#0a0ad8" stroke-width="1.7"/></g>
<text x="442" y="27" font-family="Liberation Sans, sans-serif" font-size="24" fill="#1b1b1f" textLength="120" lengthAdjust="spacingAndGlyphs">BOLL(26,2)</text>
<text x="573.6" y="27" font-family="Liberation Sans, sans-serif" font-size="24" fill="#5a9eed" textLength="130" lengthAdjust="spacingAndGlyphs">MID:1.1686</text>
<text x="720.5" y="27" font-family="Liberation Sans, sans-serif" font-size="24" fill="#63c297" textLength="157.5" lengthAdjust="spacingAndGlyphs">UPPER:1.1836</text>
<text x="896.5" y="27" font-family="Liberation Sans, sans-serif" font-size="24" fill="#5db6e4" textLength="164" lengthAdjust="spacingAndGlyphs">LOWER:1.1537</text>
<g><path d="M1068.1 15H1073.8M1082.2 15H1089.8M1083 14V25.7M1076.1 24.8H1084" stroke="#000" stroke-width="1.9" fill="none"/><path d="M1078.1 3.2L1086.6 11.9H1080.4V22H1075.7V11.9H1069.6Z" fill="#f00" stroke="#cfcfcf" stroke-width="1.2"/></g>
<text x="1099.5" y="27" font-family="Liberation Sans, sans-serif" font-size="24" fill="#1b1b1f" textLength="151" lengthAdjust="spacingAndGlyphs">PSY(12,10,85)</text>
<text x="185" y="796.3" font-family="Liberation Sans, sans-serif" font-size="24" fill="#1b1b1f" textLength="170.3" lengthAdjust="spacingAndGlyphs">MACD(26,12,9)</text>
<text x="364.8" y="796.3" font-family="Liberation Sans, sans-serif" font-size="24" fill="#5a9eed" textLength="141.5" lengthAdjust="spacingAndGlyphs">DIFF:-0.0027</text>
<text x="522.8" y="796.3" font-family="Liberation Sans, sans-serif" font-size="24" fill="#63c297" textLength="137.2" lengthAdjust="spacingAndGlyphs">DEA:-0.0021</text>
<text x="679" y="796.3" font-family="Liberation Sans, sans-serif" font-size="24" fill="#5db6e4" textLength="164" lengthAdjust="spacingAndGlyphs">MACD:-0.0013</text>
<text x="185" y="1043.6" font-family="Liberation Sans, sans-serif" font-size="24" fill="#1b1b1f" textLength="147.5" lengthAdjust="spacingAndGlyphs">RSI(14,14,14)</text>
<text x="343.8" y="1043.6" font-family="Liberation Sans, sans-serif" font-size="24" fill="#5a9eed" textLength="145.2" lengthAdjust="spacingAndGlyphs">RSI1:41.2545</text>
<text x="507.6" y="1043.6" font-family="Liberation Sans, sans-serif" font-size="24" fill="#63c297" textLength="145.2" lengthAdjust="spacingAndGlyphs">RSI2:41.2545</text>
<text x="671.6" y="1043.6" font-family="Liberation Sans, sans-serif" font-size="24" fill="#5db6e4" textLength="145.2" lengthAdjust="spacingAndGlyphs">RSI3:41.2545</text>
</g>
<g id="icons" fill="#1878c8">
<rect x="1786.9" y="2.9" width="26.2" height="26.2" fill="#fff" stroke="#1878c8" stroke-width="1.8"/>
<path d="M1798.3 6.1h3.7v5.6h-3.7zM1798.3 20.6h3.7v5.5h-3.7zM1790.1 14.2h5.8v3.7h-5.8zM1804.6 14.2h5.7v3.7h-5.7zM1798.3 14.2h3.7v3.7h-3.7z"/>
<rect x="1818.9" y="2.9" width="26.2" height="26.2" fill="#fff" stroke="#1878c8" stroke-width="1.8"/>
<path d="M1823.6 6.4h2.2v19.6h-2.2zM1821.9 22h20v2.2h-20zM1821.9 8.2h5.8v1.7h-5.8zM1838 20.2h2v6h-2zM1830.2 8.2h1.8v11.7h-1.8zM1832 12.8L1838 8.3V17.4z"/>
<rect x="1850" y="2" width="28" height="28" fill="#1878c8"/>
<path fill="#fff" d="M1855.6 6.4h2.4v19.6h-2.4zM1853.9 22.2h20v2.2h-20zM1853.9 8.2h5.8v1.7h-5.8zM1870 20.2h2v6h-2zM1862.2 8.2h1.8v12.4h-1.8z"/>
<path fill="#cfe3f5" d="M1864.3 9.5L1872 15L1864.3 20.6z"/>
<rect x="1882.9" y="2.9" width="26.2" height="26.2" fill="#fff" stroke="#1878c8" stroke-width="1.8"/>
<rect x="1887" y="7" width="6.2" height="18" fill="none" stroke="#1878c8" stroke-width="1.8"/>
<path d="M1890.3 14h8.4v-3.7L1906.2 16L1898.7 21.8V18h-8.4z"/>
</g>
<g id="sun"><circle cx="58" cy="1030" r="7.1" fill="none" stroke="#000" stroke-width="1.9"/><circle cx="58" cy="1030" r="3.9" fill="#f00"/><path d="M57.3 1016v4.1M57.3 1040v4M43.8 1029.3h4.3M67.9 1029.3h4.2M46.1 1018.1l4 4M69.9 1018.1l-4 4M46.1 1041.9l4-4M69.9 1041.9l-4-4" stroke="#d40000" stroke-width="2" fill="none"/></g>
<g id="dates">
<rect x="40.8" y="1244.6" width="138.6" height="35.6" fill="#fff" stroke="#e0e4ea" stroke-width="1.6"/>
<text x="69.5" y="1272" font-family="Liberation Sans, Noto Sans CJK SC, sans-serif" font-size="24" font-weight="bold" fill="#fa7f0c" textLength="48" lengthAdjust="spacingAndGlyphs">日线</text>
<path d="M137.6 1256L145.6 1271.6H129.6Z" fill="#fb7f06"/>
<rect x="222.1" y="1243" width="1.8" height="10" fill="#c5ccd6"/>
<text x="227" y="1267" font-family="Liberation Sans, sans-serif" font-size="24" font-weight="bold" fill="#272b47" textLength="88.5" lengthAdjust="spacingAndGlyphs">2025/06</text>
<rect x="558.1" y="1243" width="1.8" height="10" fill="#c5ccd6"/>
<text x="563" y="1267" font-family="Liberation Sans, sans-serif" font-size="24" font-weight="bold" fill="#272b47" textLength="88.5" lengthAdjust="spacingAndGlyphs">2025/07</text>
<rect x="926.1" y="1243" width="1.8" height="10" fill="#c5ccd6"/>
<text x="931" y="1267" font-family="Liberation Sans, sans-serif" font-size="24" font-weight="bold" fill="#272b47" textLength="88.5" lengthAdjust="spacingAndGlyphs">2025/08</text>
<rect x="1262.1" y="1243" width="1.8" height="10" fill="#c5ccd6"/>
<text x="1267" y="1267" font-family="Liberation Sans, sans-serif" font-size="24" font-weight="bold" fill="#272b47" textLength="88.5" lengthAdjust="spacingAndGlyphs">2025/09</text>
<rect x="1614.1" y="1243" width="1.8" height="10" fill="#c5ccd6"/>
<text x="1619" y="1267" font-family="Liberation Sans, sans-serif" font-size="24" font-weight="bold" fill="#272b47" textLength="88.5" lengthAdjust="spacingAndGlyphs">2025/10</text>
</g>
<g id="tabs">
<rect x="40" y="1282.2" width="2011" height="1.9" fill="#c8cfd9"/>
<rect x="1763" y="1311.2" width="288" height="1.8" fill="#c8cfd9"/>
<rect x="200.3" y="1282.2" width="114.2" height="30.8" fill="#ff6a00"/>
<rect x="118.3" y="1283" width="1.8" height="30" fill="#c8cfd9"/>
<rect x="198.5" y="1283" width="1.8" height="30" fill="#c8cfd9"/>
<rect x="314.3" y="1283" width="1.8" height="30" fill="#c8cfd9"/>
<rect x="465.7" y="1283" width="1.8" height="30" fill="#c8cfd9"/>
<rect x="581.8" y="1283" width="1.8" height="30" fill="#c8cfd9"/>
<rect x="698.5" y="1283" width="1.8" height="30" fill="#c8cfd9"/>
<rect x="802.6" y="1283" width="1.8" height="30" fill="#c8cfd9"/>
<rect x="906" y="1283" width="1.8" height="30" fill="#c8cfd9"/>
<rect x="1045.9" y="1283" width="1.8" height="30" fill="#c8cfd9"/>
<rect x="1138.3" y="1283" width="1.8" height="30" fill="#c8cfd9"/>
<rect x="1241.8" y="1283" width="1.8" height="30" fill="#c8cfd9"/>
<rect x="1334.6" y="1283" width="1.8" height="30" fill="#c8cfd9"/>
<rect x="1450.6" y="1283" width="1.8" height="30" fill="#c8cfd9"/>
<rect x="1554.1" y="1283" width="1.8" height="30" fill="#c8cfd9"/>
<rect x="1705.9" y="1283" width="1.8" height="30" fill="#c8cfd9"/>
<rect x="1762.3" y="1283" width="1.8" height="30" fill="#c8cfd9"/>
<text x="55" y="1306.4" font-family="Liberation Sans, Noto Sans CJK SC, sans-serif" font-size="24" fill="#1c2232" textLength="48" lengthAdjust="spacingAndGlyphs">指标</text>
<text x="136" y="1306.4" font-family="Liberation Sans, Noto Sans CJK SC, sans-serif" font-size="24" fill="#1c2232" textLength="48" lengthAdjust="spacingAndGlyphs">模板</text>
<text x="252.6" y="1306.4" font-family="Liberation Sans, Noto Sans CJK SC, sans-serif" font-size="24" fill="#fff" textLength="48" lengthAdjust="spacingAndGlyphs">指标</text>
<text x="216.5" y="1306" font-family="Liberation Mono, monospace" font-size="24" fill="#fff" textLength="36" lengthAdjust="spacingAndGlyphs">VIP</text>
<text x="332" y="1306" font-family="Liberation Mono, monospace" font-size="24" fill="#1c2232" textLength="119" lengthAdjust="spacingAndGlyphs">BARUPDN_UD</text>
<text x="483.4" y="1306" font-family="Liberation Mono, monospace" font-size="24" fill="#1c2232" textLength="83" lengthAdjust="spacingAndGlyphs">BIAS_UD</text>
<text x="599.5" y="1306" font-family="Liberation Mono, monospace" font-size="24" fill="#1c2232" textLength="83" lengthAdjust="spacingAndGlyphs">BOLL_UD</text>
<text x="716.2" y="1306" font-family="Liberation Mono, monospace" font-size="24" fill="#1c2232" textLength="71" lengthAdjust="spacingAndGlyphs">CCI_UD</text>
<text x="820.3" y="1306" font-family="Liberation Mono, monospace" font-size="24" fill="#1c2232" textLength="71" lengthAdjust="spacingAndGlyphs">DMI_UD</text>
<text x="923.7" y="1306" font-family="Liberation Mono, monospace" font-size="24" fill="#1c2232" textLength="107" lengthAdjust="spacingAndGlyphs">INSIDE_UD</text>
<text x="1063.6" y="1306" font-family="Liberation Mono, monospace" font-size="24" fill="#1c2232" textLength="59" lengthAdjust="spacingAndGlyphs">KD_UD</text>
<text x="1156" y="1306" font-family="Liberation Mono, monospace" font-size="24" fill="#1c2232" textLength="71" lengthAdjust="spacingAndGlyphs">KDJ_UD</text>
<text x="1259.5" y="1306" font-family="Liberation Mono, monospace" font-size="24" fill="#1c2232" textLength="59" lengthAdjust="spacingAndGlyphs">MA_UD</text>
<text x="1352.3" y="1306" font-family="Liberation Mono, monospace" font-size="24" fill="#1c2232" textLength="83" lengthAdjust="spacingAndGlyphs">MACD_UD</text>
<text x="1468.3" y="1306" font-family="Liberation Mono, monospace" font-size="24" fill="#1c2232" textLength="71" lengthAdjust="spacingAndGlyphs">MTM_UD</text>
<text x="1571.8" y="1306" font-family="Liberation Mono, monospace" font-size="24" fill="#1c2232" textLength="119" lengthAdjust="spacingAndGlyphs">OUTSIDE_UD</text>
<text x="1723.6" y="1306" font-family="Liberation Mono, monospace" font-size="24" fill="#1c2232" textLength="23" lengthAdjust="spacingAndGlyphs">&gt;&gt;</text>
</g>
<text x="1924.3" y="1288.2" font-family="Liberation Sans, sans-serif" font-size="30" fill="#d0deef" stroke="#d0deef" stroke-width="0.5" textLength="96" lengthAdjust="spacing" style="filter:drop-shadow(1px 1.3px 0.5px rgba(175,150,125,.6))">FX678</text>
</svg>
</body></html>
